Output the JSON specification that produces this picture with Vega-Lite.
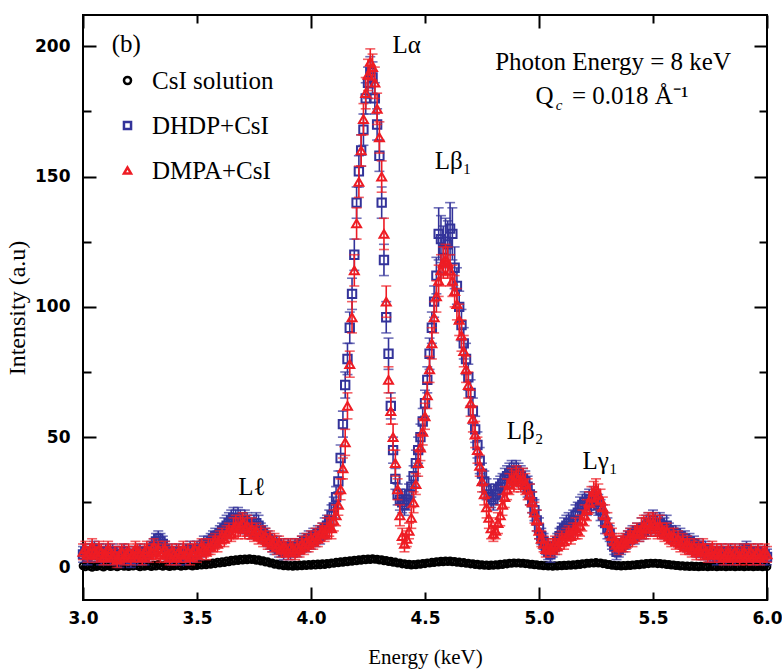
{
"$schema":"https://vega.github.io/schema/vega-lite/v6.json",
"width":684,"height":585,
"autosize":{"type":"none"},
"padding":{"left":83,"top":15,"right":15,"bottom":71},
"background":"white",
"config":{"view":{"stroke":"#000","strokeWidth":2},"axis":{"domain":false,"grid":false,"labelColor":"#000","titleColor":"#000","tickColor":"#000"}},
"datasets":{
"spec":[
{"e":3.00,"a":0.6,"b":5,"bu":3,"c":6,"cu":3},{"e":3.01,"a":0.2,"b":6,"bu":3,"c":7,"cu":3},{"e":3.02,"a":0.8,"b":4,"bu":3,"c":5,"cu":3},{"e":3.03,"a":0.4,"b":5,"bu":3,"c":6,"cu":3},{"e":3.04,"a":0.0,"b":6,"bu":3,"c":8,"cu":3},
{"e":3.05,"a":0.7,"b":7,"bu":3,"c":6,"cu":3},{"e":3.06,"a":0.3,"b":5,"bu":3,"c":5,"cu":3},{"e":3.07,"a":1.0,"b":6,"bu":3,"c":7,"cu":3},{"e":3.08,"a":0.5,"b":4,"bu":3,"c":6,"cu":3},{"e":3.09,"a":0.1,"b":5,"bu":3,"c":4,"cu":3},
{"e":3.10,"a":0.6,"b":6,"bu":3,"c":5,"cu":3},{"e":3.11,"a":0.9,"b":5,"bu":3,"c":7,"cu":3},{"e":3.12,"a":0.3,"b":4,"bu":3,"c":6,"cu":3},{"e":3.13,"a":0.5,"b":6,"bu":3,"c":4,"cu":3},{"e":3.14,"a":0.8,"b":5,"bu":3,"c":5,"cu":3},
{"e":3.15,"a":0.2,"b":4,"bu":3,"c":3,"cu":3},{"e":3.16,"a":0.6,"b":3,"bu":3,"c":5,"cu":3},{"e":3.17,"a":1.0,"b":5,"bu":3,"c":6,"cu":3},{"e":3.18,"a":0.4,"b":6,"bu":3,"c":4,"cu":3},{"e":3.19,"a":0.7,"b":4,"bu":3,"c":5,"cu":3},
{"e":3.20,"a":0.3,"b":5,"bu":3,"c":6,"cu":3},{"e":3.21,"a":0.9,"b":3,"bu":3,"c":4,"cu":3},{"e":3.22,"a":0.5,"b":4,"bu":3,"c":5,"cu":3},{"e":3.23,"a":1.1,"b":5,"bu":3,"c":7,"cu":3},{"e":3.24,"a":0.6,"b":4,"bu":3,"c":6,"cu":3},
{"e":3.25,"a":0.2,"b":6,"bu":3,"c":5,"cu":3},{"e":3.26,"a":0.8,"b":5,"bu":3,"c":4,"cu":3},{"e":3.27,"a":0.4,"b":4,"bu":3,"c":6,"cu":3},{"e":3.28,"a":1.0,"b":5,"bu":3,"c":7,"cu":3},{"e":3.29,"a":0.6,"b":6,"bu":3,"c":5,"cu":3},
{"e":3.30,"a":0.3,"b":7,"bu":3,"c":6,"cu":3},{"e":3.31,"a":0.9,"b":8,"bu":3,"c":8,"cu":3},{"e":3.32,"a":0.5,"b":10,"bu":3,"c":6,"cu":3},{"e":3.33,"a":1.2,"b":11,"bu":3,"c":7,"cu":3},{"e":3.34,"a":0.7,"b":10,"bu":3,"c":5,"cu":3},
{"e":3.35,"a":0.4,"b":9,"bu":3,"c":6,"cu":3},{"e":3.36,"a":1.0,"b":7,"bu":3,"c":7,"cu":3},{"e":3.37,"a":0.6,"b":6,"bu":3,"c":5,"cu":3},{"e":3.38,"a":0.3,"b":5,"bu":3,"c":4,"cu":3},{"e":3.39,"a":0.8,"b":4,"bu":3,"c":6,"cu":3},
{"e":3.40,"a":0.5,"b":5,"bu":3,"c":5,"cu":3},{"e":3.41,"a":1.1,"b":6,"bu":3,"c":4,"cu":3},{"e":3.42,"a":0.7,"b":4,"bu":3,"c":6,"cu":3},{"e":3.43,"a":0.4,"b":5,"bu":3,"c":5,"cu":3},{"e":3.44,"a":0.9,"b":6,"bu":3,"c":7,"cu":3},
{"e":3.45,"a":0.6,"b":4,"bu":3,"c":5,"cu":3},{"e":3.46,"a":1.2,"b":5,"bu":3,"c":6,"cu":3},{"e":3.47,"a":0.8,"b":7,"bu":3,"c":4,"cu":3},{"e":3.48,"a":0.5,"b":5,"bu":3,"c":6,"cu":3},{"e":3.49,"a":1.0,"b":6,"bu":3,"c":7,"cu":3},
{"e":3.50,"a":0.7,"b":7,"bu":3,"c":5,"cu":3},{"e":3.51,"a":1.3,"b":6,"bu":3,"c":6,"cu":3},{"e":3.52,"a":0.9,"b":7,"bu":3,"c":8,"cu":3},{"e":3.53,"a":1.4,"b":9,"bu":3,"c":7,"cu":3},{"e":3.54,"a":1.0,"b":8,"bu":3,"c":6,"cu":3},
{"e":3.55,"a":1.5,"b":9,"bu":3,"c":8,"cu":3},{"e":3.56,"a":1.2,"b":10,"bu":3,"c":8,"cu":3},{"e":3.57,"a":1.8,"b":11,"bu":3,"c":9,"cu":3},{"e":3.58,"a":1.4,"b":12,"bu":3,"c":10,"cu":3},{"e":3.59,"a":2.0,"b":11,"bu":3,"c":9,"cu":3},
{"e":3.60,"a":1.6,"b":13,"bu":3,"c":11,"cu":3},{"e":3.61,"a":2.2,"b":14,"bu":3,"c":12,"cu":3},{"e":3.62,"a":1.8,"b":15,"bu":4,"c":11,"cu":3},{"e":3.63,"a":2.5,"b":16,"bu":4,"c":13,"cu":3},{"e":3.64,"a":2.1,"b":17,"bu":4,"c":14,"cu":3},
{"e":3.65,"a":2.8,"b":18,"bu":4,"c":13,"cu":3},{"e":3.66,"a":2.4,"b":19,"bu":4,"c":15,"cu":4},{"e":3.67,"a":3.0,"b":18,"bu":4,"c":16,"cu":4},{"e":3.68,"a":2.6,"b":19,"bu":4,"c":15,"cu":4},{"e":3.69,"a":3.2,"b":18,"bu":4,"c":16,"cu":4},
{"e":3.70,"a":2.8,"b":17,"bu":4,"c":17,"cu":4},{"e":3.71,"a":3.3,"b":18,"bu":4,"c":15,"cu":4},{"e":3.72,"a":2.9,"b":17,"bu":4,"c":16,"cu":4},{"e":3.73,"a":3.4,"b":16,"bu":4,"c":14,"cu":3},{"e":3.74,"a":3.0,"b":15,"bu":4,"c":15,"cu":4},
{"e":3.75,"a":3.2,"b":16,"bu":4,"c":13,"cu":3},{"e":3.76,"a":2.7,"b":17,"bu":4,"c":14,"cu":3},{"e":3.77,"a":3.0,"b":16,"bu":4,"c":12,"cu":3},{"e":3.78,"a":2.4,"b":14,"bu":3,"c":13,"cu":3},{"e":3.79,"a":2.6,"b":13,"bu":3,"c":11,"cu":3},
{"e":3.80,"a":2.0,"b":12,"bu":3,"c":12,"cu":3},{"e":3.81,"a":2.2,"b":11,"bu":3,"c":10,"cu":3},{"e":3.82,"a":1.6,"b":10,"bu":3,"c":11,"cu":3},{"e":3.83,"a":1.8,"b":9,"bu":3,"c":9,"cu":3},{"e":3.84,"a":1.2,"b":8,"bu":3,"c":10,"cu":3},
{"e":3.85,"a":1.4,"b":9,"bu":3,"c":8,"cu":3},{"e":3.86,"a":0.9,"b":7,"bu":3,"c":9,"cu":3},{"e":3.87,"a":1.1,"b":8,"bu":3,"c":7,"cu":3},{"e":3.88,"a":0.6,"b":6,"bu":3,"c":8,"cu":3},{"e":3.89,"a":0.9,"b":7,"bu":3,"c":7,"cu":3},
{"e":3.90,"a":0.5,"b":8,"bu":3,"c":6,"cu":3},{"e":3.91,"a":0.8,"b":6,"bu":3,"c":8,"cu":3},{"e":3.92,"a":0.4,"b":7,"bu":3,"c":7,"cu":3},{"e":3.93,"a":0.9,"b":8,"bu":3,"c":6,"cu":3},{"e":3.94,"a":0.5,"b":7,"bu":3,"c":8,"cu":3},
{"e":3.95,"a":1.0,"b":8,"bu":3,"c":7,"cu":3},{"e":3.96,"a":0.6,"b":9,"bu":3,"c":9,"cu":3},{"e":3.97,"a":1.1,"b":10,"bu":3,"c":8,"cu":3},{"e":3.98,"a":0.7,"b":9,"bu":3,"c":10,"cu":3},{"e":3.99,"a":1.2,"b":11,"bu":3,"c":9,"cu":3},
{"e":4.00,"a":0.8,"b":10,"bu":3,"c":11,"cu":3},{"e":4.01,"a":1.3,"b":12,"bu":3,"c":10,"cu":3},{"e":4.02,"a":0.9,"b":11,"bu":3,"c":12,"cu":3},{"e":4.03,"a":1.4,"b":13,"bu":3,"c":11,"cu":3},{"e":4.04,"a":1.0,"b":12,"bu":3,"c":13,"cu":3},
{"e":4.05,"a":1.5,"b":14,"bu":3,"c":14,"cu":3},{"e":4.06,"a":1.1,"b":15,"bu":4,"c":13,"cu":3},{"e":4.07,"a":1.6,"b":16,"bu":4,"c":15,"cu":4},{"e":4.08,"a":1.3,"b":18,"bu":4,"c":16,"cu":4},{"e":4.09,"a":1.8,"b":20,"bu":4,"c":15,"cu":4},
{"e":4.10,"a":1.5,"b":23,"bu":4,"c":18,"cu":4},{"e":4.11,"a":2.0,"b":27,"bu":4,"c":20,"cu":4},{"e":4.12,"a":1.7,"b":33,"bu":4,"c":24,"cu":4},{"e":4.13,"a":2.2,"b":42,"bu":5,"c":30,"cu":4},{"e":4.14,"a":1.9,"b":55,"bu":5,"c":38,"cu":4},
{"e":4.15,"a":2.4,"b":70,"bu":5,"c":48,"cu":5},{"e":4.16,"a":2.1,"b":80,"bu":6,"c":62,"cu":5},{"e":4.17,"a":2.6,"b":92,"bu":6,"c":78,"cu":5},{"e":4.18,"a":2.3,"b":105,"bu":6,"c":96,"cu":6},{"e":4.19,"a":2.8,"b":120,"bu":6,"c":114,"cu":6},
{"e":4.20,"a":2.5,"b":140,"bu":6,"c":132,"cu":6},{"e":4.21,"a":3.0,"b":152,"bu":6,"c":148,"cu":6},{"e":4.22,"a":2.7,"b":160,"bu":6,"c":160,"cu":6},{"e":4.23,"a":3.2,"b":168,"bu":6,"c":172,"cu":6},{"e":4.24,"a":2.9,"b":180,"bu":6,"c":182,"cu":6},
{"e":4.25,"a":3.3,"b":186,"bu":6,"c":189,"cu":6},{"e":4.26,"a":3.0,"b":190,"bu":6,"c":194,"cu":5},{"e":4.27,"a":3.4,"b":188,"bu":6,"c":192,"cu":5},{"e":4.28,"a":3.1,"b":180,"bu":6,"c":186,"cu":6},{"e":4.29,"a":3.2,"b":170,"bu":6,"c":176,"cu":6},
{"e":4.30,"a":2.8,"b":158,"bu":6,"c":165,"cu":6},{"e":4.31,"a":3.0,"b":140,"bu":6,"c":150,"cu":6},{"e":4.32,"a":2.5,"b":118,"bu":6,"c":128,"cu":6},{"e":4.33,"a":2.7,"b":96,"bu":6,"c":102,"cu":6},{"e":4.34,"a":2.2,"b":82,"bu":6,"c":72,"cu":5},
{"e":4.35,"a":2.4,"b":62,"bu":5,"c":60,"cu":5},{"e":4.36,"a":1.9,"b":45,"bu":5,"c":50,"cu":5},{"e":4.37,"a":2.1,"b":34,"bu":4,"c":40,"cu":5},{"e":4.38,"a":1.6,"b":28,"bu":4,"c":30,"cu":4},{"e":4.39,"a":1.8,"b":26,"bu":4,"c":20,"cu":4},
{"e":4.40,"a":1.3,"b":25,"bu":4,"c":12,"cu":3},{"e":4.41,"a":1.5,"b":24,"bu":4,"c":9,"cu":3},{"e":4.42,"a":1.1,"b":26,"bu":4,"c":11,"cu":3},{"e":4.43,"a":1.3,"b":28,"bu":4,"c":14,"cu":3},{"e":4.44,"a":0.9,"b":31,"bu":4,"c":19,"cu":4},
{"e":4.45,"a":1.2,"b":35,"bu":4,"c":25,"cu":4},{"e":4.46,"a":1.0,"b":40,"bu":5,"c":32,"cu":4},{"e":4.47,"a":1.4,"b":45,"bu":5,"c":40,"cu":5},{"e":4.48,"a":1.2,"b":50,"bu":5,"c":46,"cu":5},{"e":4.49,"a":1.6,"b":56,"bu":5,"c":52,"cu":5},
{"e":4.50,"a":1.4,"b":63,"bu":5,"c":58,"cu":5},{"e":4.51,"a":1.8,"b":72,"bu":5,"c":66,"cu":5},{"e":4.52,"a":1.6,"b":82,"bu":6,"c":76,"cu":5},{"e":4.53,"a":2.0,"b":92,"bu":6,"c":86,"cu":6},{"e":4.54,"a":1.8,"b":102,"bu":6,"c":96,"cu":6},
{"e":4.55,"a":2.2,"b":112,"bu":7,"c":104,"cu":6},{"e":4.56,"a":2.0,"b":128,"bu":10,"c":110,"cu":6},{"e":4.57,"a":2.4,"b":126,"bu":9,"c":114,"cu":6},{"e":4.58,"a":2.1,"b":122,"bu":9,"c":117,"cu":6},{"e":4.59,"a":2.5,"b":125,"bu":9,"c":118,"cu":6},
{"e":4.60,"a":2.2,"b":124,"bu":9,"c":117,"cu":6},{"e":4.61,"a":2.5,"b":130,"bu":10,"c":114,"cu":6},{"e":4.62,"a":2.1,"b":128,"bu":10,"c":110,"cu":6},{"e":4.63,"a":2.3,"b":115,"bu":8,"c":106,"cu":6},{"e":4.64,"a":1.9,"b":108,"bu":7,"c":101,"cu":6},
{"e":4.65,"a":2.1,"b":100,"bu":6,"c":95,"cu":6},{"e":4.66,"a":1.7,"b":93,"bu":6,"c":89,"cu":6},{"e":4.67,"a":1.9,"b":86,"bu":6,"c":83,"cu":6},{"e":4.68,"a":1.5,"b":80,"bu":6,"c":76,"cu":5},{"e":4.69,"a":1.7,"b":73,"bu":5,"c":70,"cu":5},
{"e":4.70,"a":1.3,"b":67,"bu":5,"c":63,"cu":5},{"e":4.71,"a":1.5,"b":60,"bu":5,"c":57,"cu":5},{"e":4.72,"a":1.1,"b":53,"bu":5,"c":51,"cu":5},{"e":4.73,"a":1.3,"b":47,"bu":5,"c":45,"cu":5},{"e":4.74,"a":0.9,"b":41,"bu":5,"c":39,"cu":4},
{"e":4.75,"a":1.1,"b":36,"bu":4,"c":33,"cu":4},{"e":4.76,"a":0.8,"b":33,"bu":4,"c":28,"cu":4},{"e":4.77,"a":1.0,"b":30,"bu":4,"c":23,"cu":4},{"e":4.78,"a":0.7,"b":28,"bu":4,"c":19,"cu":4},{"e":4.79,"a":1.0,"b":27,"bu":4,"c":15,"cu":4},
{"e":4.80,"a":0.8,"b":26,"bu":4,"c":13,"cu":3},{"e":4.81,"a":1.1,"b":28,"bu":4,"c":14,"cu":3},{"e":4.82,"a":0.9,"b":30,"bu":4,"c":17,"cu":4},{"e":4.83,"a":1.3,"b":31,"bu":4,"c":20,"cu":4},{"e":4.84,"a":1.1,"b":32,"bu":4,"c":24,"cu":4},
{"e":4.85,"a":1.5,"b":34,"bu":4,"c":27,"cu":4},{"e":4.86,"a":1.3,"b":35,"bu":4,"c":30,"cu":4},{"e":4.87,"a":1.7,"b":36,"bu":4,"c":32,"cu":4},{"e":4.88,"a":1.5,"b":37,"bu":4,"c":34,"cu":4},{"e":4.89,"a":1.8,"b":36,"bu":4,"c":33,"cu":4},
{"e":4.90,"a":1.6,"b":37,"bu":4,"c":35,"cu":4},{"e":4.91,"a":1.8,"b":36,"bu":4,"c":34,"cu":4},{"e":4.92,"a":1.5,"b":35,"bu":4,"c":33,"cu":4},{"e":4.93,"a":1.7,"b":34,"bu":4,"c":34,"cu":4},{"e":4.94,"a":1.4,"b":33,"bu":4,"c":32,"cu":4},
{"e":4.95,"a":1.5,"b":31,"bu":4,"c":30,"cu":4},{"e":4.96,"a":1.2,"b":28,"bu":4,"c":28,"cu":4},{"e":4.97,"a":1.3,"b":25,"bu":4,"c":25,"cu":4},{"e":4.98,"a":1.0,"b":22,"bu":4,"c":21,"cu":4},{"e":4.99,"a":1.1,"b":18,"bu":4,"c":18,"cu":4},
{"e":5.00,"a":0.8,"b":15,"bu":4,"c":14,"cu":3},{"e":5.01,"a":0.9,"b":12,"bu":3,"c":11,"cu":3},{"e":5.02,"a":0.6,"b":10,"bu":3,"c":9,"cu":3},{"e":5.03,"a":0.8,"b":8,"bu":3,"c":7,"cu":3},{"e":5.04,"a":0.5,"b":6,"bu":3,"c":8,"cu":3},
{"e":5.05,"a":0.7,"b":5,"bu":3,"c":7,"cu":3},{"e":5.06,"a":0.4,"b":7,"bu":3,"c":8,"cu":3},{"e":5.07,"a":0.7,"b":8,"bu":3,"c":9,"cu":3},{"e":5.08,"a":0.5,"b":10,"bu":3,"c":8,"cu":3},{"e":5.09,"a":0.8,"b":12,"bu":3,"c":10,"cu":3},
{"e":5.10,"a":0.6,"b":14,"bu":3,"c":11,"cu":3},{"e":5.11,"a":0.9,"b":15,"bu":4,"c":10,"cu":3},{"e":5.12,"a":0.7,"b":16,"bu":4,"c":12,"cu":3},{"e":5.13,"a":1.0,"b":17,"bu":4,"c":13,"cu":3},{"e":5.14,"a":0.8,"b":16,"bu":4,"c":12,"cu":3},
{"e":5.15,"a":1.1,"b":18,"bu":4,"c":14,"cu":3},{"e":5.16,"a":0.9,"b":20,"bu":4,"c":15,"cu":4},{"e":5.17,"a":1.3,"b":21,"bu":4,"c":14,"cu":3},{"e":5.18,"a":1.1,"b":23,"bu":4,"c":16,"cu":4},{"e":5.19,"a":1.5,"b":24,"bu":4,"c":18,"cu":4},
{"e":5.20,"a":1.3,"b":25,"bu":4,"c":20,"cu":4},{"e":5.21,"a":1.7,"b":24,"bu":4,"c":22,"cu":4},{"e":5.22,"a":1.5,"b":26,"bu":4,"c":25,"cu":4},{"e":5.23,"a":1.8,"b":25,"bu":4,"c":27,"cu":4},{"e":5.24,"a":1.6,"b":27,"bu":4,"c":29,"cu":4},
{"e":5.25,"a":1.9,"b":26,"bu":4,"c":30,"cu":4},{"e":5.26,"a":1.6,"b":24,"bu":4,"c":28,"cu":4},{"e":5.27,"a":1.8,"b":22,"bu":4,"c":26,"cu":4},{"e":5.28,"a":1.4,"b":20,"bu":4,"c":23,"cu":4},{"e":5.29,"a":1.5,"b":17,"bu":4,"c":20,"cu":4},
{"e":5.30,"a":1.1,"b":15,"bu":4,"c":17,"cu":4},{"e":5.31,"a":1.2,"b":13,"bu":3,"c":14,"cu":3},{"e":5.32,"a":0.8,"b":10,"bu":3,"c":12,"cu":3},{"e":5.33,"a":0.9,"b":8,"bu":3,"c":10,"cu":3},{"e":5.34,"a":0.6,"b":6,"bu":3,"c":9,"cu":3},
{"e":5.35,"a":0.8,"b":7,"bu":3,"c":8,"cu":3},{"e":5.36,"a":0.5,"b":8,"bu":3,"c":9,"cu":3},{"e":5.37,"a":0.8,"b":9,"bu":3,"c":10,"cu":3},{"e":5.38,"a":0.6,"b":10,"bu":3,"c":9,"cu":3},{"e":5.39,"a":0.9,"b":11,"bu":3,"c":11,"cu":3},
{"e":5.40,"a":0.7,"b":12,"bu":3,"c":12,"cu":3},{"e":5.41,"a":1.0,"b":13,"bu":3,"c":11,"cu":3},{"e":5.42,"a":0.9,"b":12,"bu":3,"c":13,"cu":3},{"e":5.43,"a":1.2,"b":14,"bu":3,"c":14,"cu":3},{"e":5.44,"a":1.0,"b":13,"bu":3,"c":13,"cu":3},
{"e":5.45,"a":1.4,"b":15,"bu":4,"c":15,"cu":4},{"e":5.46,"a":1.2,"b":14,"bu":3,"c":16,"cu":4},{"e":5.47,"a":1.6,"b":16,"bu":4,"c":15,"cu":4},{"e":5.48,"a":1.4,"b":17,"bu":4,"c":17,"cu":4},{"e":5.49,"a":1.7,"b":16,"bu":4,"c":16,"cu":4},
{"e":5.50,"a":1.5,"b":18,"bu":4,"c":17,"cu":4},{"e":5.51,"a":1.7,"b":17,"bu":4,"c":16,"cu":4},{"e":5.52,"a":1.4,"b":16,"bu":4,"c":15,"cu":4},{"e":5.53,"a":1.6,"b":17,"bu":4,"c":16,"cu":4},{"e":5.54,"a":1.3,"b":16,"bu":4,"c":14,"cu":3},
{"e":5.55,"a":1.4,"b":15,"bu":4,"c":13,"cu":3},{"e":5.56,"a":1.1,"b":16,"bu":4,"c":14,"cu":3},{"e":5.57,"a":1.2,"b":14,"bu":3,"c":12,"cu":3},{"e":5.58,"a":0.9,"b":13,"bu":3,"c":11,"cu":3},{"e":5.59,"a":1.0,"b":12,"bu":3,"c":12,"cu":3},
{"e":5.60,"a":0.7,"b":13,"bu":3,"c":10,"cu":3},{"e":5.61,"a":0.8,"b":11,"bu":3,"c":11,"cu":3},{"e":5.62,"a":0.5,"b":12,"bu":3,"c":9,"cu":3},{"e":5.63,"a":0.7,"b":10,"bu":3,"c":10,"cu":3},{"e":5.64,"a":0.4,"b":11,"bu":3,"c":8,"cu":3},
{"e":5.65,"a":0.6,"b":9,"bu":3,"c":9,"cu":3},{"e":5.66,"a":0.3,"b":10,"bu":3,"c":8,"cu":3},{"e":5.67,"a":0.6,"b":8,"bu":3,"c":7,"cu":3},{"e":5.68,"a":0.3,"b":9,"bu":3,"c":8,"cu":3},{"e":5.69,"a":0.5,"b":7,"bu":3,"c":6,"cu":3},
{"e":5.70,"a":0.2,"b":8,"bu":3,"c":7,"cu":3},{"e":5.71,"a":0.5,"b":7,"bu":3,"c":6,"cu":3},{"e":5.72,"a":0.3,"b":6,"bu":3,"c":8,"cu":3},{"e":5.73,"a":0.6,"b":7,"bu":3,"c":6,"cu":3},{"e":5.74,"a":0.2,"b":6,"bu":3,"c":5,"cu":3},
{"e":5.75,"a":0.5,"b":5,"bu":3,"c":6,"cu":3},{"e":5.76,"a":0.3,"b":6,"bu":3,"c":7,"cu":3},{"e":5.77,"a":0.6,"b":5,"bu":3,"c":5,"cu":3},{"e":5.78,"a":0.2,"b":4,"bu":3,"c":6,"cu":3},{"e":5.79,"a":0.5,"b":5,"bu":3,"c":5,"cu":3},
{"e":5.80,"a":0.3,"b":6,"bu":3,"c":6,"cu":3},{"e":5.81,"a":0.6,"b":5,"bu":3,"c":4,"cu":3},{"e":5.82,"a":0.2,"b":4,"bu":3,"c":5,"cu":3},{"e":5.83,"a":0.5,"b":5,"bu":3,"c":6,"cu":3},{"e":5.84,"a":0.3,"b":6,"bu":3,"c":5,"cu":3},
{"e":5.85,"a":0.6,"b":5,"bu":3,"c":4,"cu":3},{"e":5.86,"a":0.2,"b":4,"bu":3,"c":6,"cu":3},{"e":5.87,"a":0.5,"b":5,"bu":3,"c":5,"cu":3},{"e":5.88,"a":0.3,"b":6,"bu":3,"c":4,"cu":3},{"e":5.89,"a":0.6,"b":5,"bu":3,"c":5,"cu":3},
{"e":5.90,"a":0.2,"b":6,"bu":3,"c":6,"cu":3},{"e":5.91,"a":0.5,"b":7,"bu":3,"c":4,"cu":3},{"e":5.92,"a":0.3,"b":6,"bu":3,"c":5,"cu":3},{"e":5.93,"a":0.6,"b":5,"bu":3,"c":6,"cu":3},{"e":5.94,"a":0.2,"b":4,"bu":3,"c":4,"cu":3},
{"e":5.95,"a":0.5,"b":5,"bu":3,"c":5,"cu":3},{"e":5.96,"a":0.3,"b":6,"bu":3,"c":6,"cu":3},{"e":5.97,"a":0.6,"b":5,"bu":3,"c":4,"cu":3},{"e":5.98,"a":0.2,"b":4,"bu":3,"c":5,"cu":3},{"e":5.99,"a":0.5,"b":5,"bu":3,"c":6,"cu":3},
{"e":6.00,"a":0.3,"b":4,"bu":3,"c":5,"cu":3}
],
"notes":[
{"e":3.19,"v":201,"t":"(b)"},
{"e":4.42,"v":200.5,"t":"Lα"},
{"e":4.623,"v":156,"t":"Lβ₁"},
{"e":4.939,"v":52.5,"t":"Lβ₂"},
{"e":5.268,"v":41,"t":"Lγ₁"},
{"e":3.741,"v":30.8,"t":"Lℓ"},
{"e":5.325,"v":193.8,"t":"Photon Energy = 8 keV"},
{"e":5.024,"v":180.8,"t":"Q"},
{"e":5.40,"v":180.8,"t":"= 0.018 Å⁻¹"}
],
"sub":[
{"e":5.088,"v":177.3,"t":"c"}
]
},
"data":{"name":"spec"},
"resolve":{"axis":{"x":"independent","y":"independent"}},
"layer":[
{"mark":{"type":"point","filled":false,"strokeWidth":2,"size":45,"opacity":1},
 "encoding":{
  "x":{"field":"e","type":"quantitative","scale":{"domain":[3,6],"nice":false,"zero":false},
       "axis":{"orient":"bottom","values":[3,3.5,4,4.5,5,5.5,6],"format":".1f","ticks":false,"labelPadding":10,"labelFont":"DejaVu Sans","labelFontWeight":"bold","labelFontSize":17,"labelFlush":false,"labelOverlap":false,
               "title":"Energy (keV)","titleFont":"Liberation Serif","titleFontWeight":"normal","titleFontSize":21,"titlePadding":20}},
  "y":{"field":"a","type":"quantitative","scale":{"domain":[-12.5,212],"nice":false,"zero":false},
       "axis":{"orient":"left","values":[0,50,100,150,200],"ticks":false,"labelPadding":13,"labelFont":"DejaVu Sans","labelFontWeight":"bold","labelFontSize":17,"labelFlush":false,"labelOverlap":false,
               "title":"Intensity (a.u)","titleFont":"Liberation Serif","titleFontWeight":"normal","titleFontSize":24,"titlePadding":5}},
  "color":{"datum":"CsI solution","type":"nominal","scale":{"domain":["CsI solution","DHDP+CsI","DMPA+CsI"],"range":["#000000","#33339a","#ee1c24"]},
    "legend":{"orient":"none","legendX":32,"legendY":53,"title":null,"labelFont":"Liberation Serif","labelFontSize":25,"symbolSize":50,"symbolStrokeWidth":2.5,"rowPadding":19,"labelOffset":12,
      "encode":{"labels":{"update":{"fill":{"scale":"color","field":"value"}}}}}},
  "shape":{"datum":"CsI solution","type":"nominal","scale":{"domain":["CsI solution","DHDP+CsI","DMPA+CsI"],"range":["circle","square","triangle-up"]},
    "legend":{"orient":"none","legendX":32,"legendY":53,"title":null,"labelFont":"Liberation Serif","labelFontSize":25,"symbolSize":50,"symbolStrokeWidth":2.5,"rowPadding":19,"labelOffset":12,
      "encode":{"labels":{"update":{"fill":{"scale":"color","field":"value"}}}}}}
 }},
{"mark":{"type":"errorbar","ticks":true,"size":10,"thickness":1.6,"color":"#33339a"},
 "encoding":{
  "x":{"field":"e","type":"quantitative","scale":{"domain":[3,6],"nice":false,"zero":false},"axis":null},
  "y":{"field":"b","type":"quantitative","scale":{"domain":[-12.5,212],"nice":false,"zero":false},"axis":null},
  "yError":{"field":"bu"}
 }},
{"mark":{"type":"point","filled":false,"strokeWidth":2,"size":70,"opacity":1},
 "encoding":{
  "x":{"field":"e","type":"quantitative","scale":{"domain":[3,6],"nice":false,"zero":false},
       "axis":{"orient":"bottom","values":[3,4,5,6],"labels":false,"tickSize":-13,"tickWidth":2,"title":null}},
  "y":{"field":"b","type":"quantitative","scale":{"domain":[-12.5,212],"nice":false,"zero":false},
       "axis":{"orient":"left","values":[0,50,100,150,200],"labels":false,"tickSize":-13,"tickWidth":2,"title":null}},
  "color":{"datum":"DHDP+CsI","type":"nominal"},
  "shape":{"datum":"DHDP+CsI","type":"nominal"}
 }},
{"mark":{"type":"errorbar","ticks":true,"size":10,"thickness":1.6,"color":"#ee1c24"},
 "encoding":{
  "x":{"field":"e","type":"quantitative","scale":{"domain":[3,6],"nice":false,"zero":false},"axis":null},
  "y":{"field":"c","type":"quantitative","scale":{"domain":[-12.5,212],"nice":false,"zero":false},"axis":null},
  "yError":{"field":"cu"}
 }},
{"mark":{"type":"point","filled":false,"strokeWidth":2,"size":80,"opacity":1},
 "encoding":{
  "x":{"field":"e","type":"quantitative","scale":{"domain":[3,6],"nice":false,"zero":false},
       "axis":{"orient":"bottom","values":[3.5,4.5,5.5],"labels":false,"tickSize":-8,"tickWidth":2,"title":null}},
  "y":{"field":"c","type":"quantitative","scale":{"domain":[-12.5,212],"nice":false,"zero":false},
       "axis":{"orient":"left","values":[25,75,125,175],"labels":false,"tickSize":-8,"tickWidth":2,"title":null}},
  "color":{"datum":"DMPA+CsI","type":"nominal"},
  "shape":{"datum":"DMPA+CsI","type":"nominal"}
 }},
{"data":{"name":"notes"},
 "mark":{"type":"text","font":"Liberation Serif","fontSize":25,"align":"center","baseline":"middle","color":"#000"},
 "encoding":{
  "x":{"field":"e","type":"quantitative","scale":{"domain":[3,6],"nice":false,"zero":false},
       "axis":{"orient":"top","values":[3,4,5,6],"labels":false,"tickSize":-13,"tickWidth":2,"title":null}},
  "y":{"field":"v","type":"quantitative","scale":{"domain":[-12.5,212],"nice":false,"zero":false},
       "axis":{"orient":"right","values":[0,50,100,150,200],"labels":false,"tickSize":-13,"tickWidth":2,"title":null}},
  "text":{"field":"t","type":"nominal"}
 }},
{"data":{"name":"sub"},
 "mark":{"type":"text","font":"Liberation Serif","fontSize":15,"fontStyle":"italic","align":"center","baseline":"middle","color":"#000"},
 "encoding":{
  "x":{"field":"e","type":"quantitative","scale":{"domain":[3,6],"nice":false,"zero":false},
       "axis":{"orient":"top","values":[3.5,4.5,5.5],"labels":false,"tickSize":-8,"tickWidth":2,"title":null}},
  "y":{"field":"v","type":"quantitative","scale":{"domain":[-12.5,212],"nice":false,"zero":false},
       "axis":{"orient":"right","values":[25,75,125,175],"labels":false,"tickSize":-8,"tickWidth":2,"title":null}},
  "text":{"field":"t","type":"nominal"}
 }}
]
}
